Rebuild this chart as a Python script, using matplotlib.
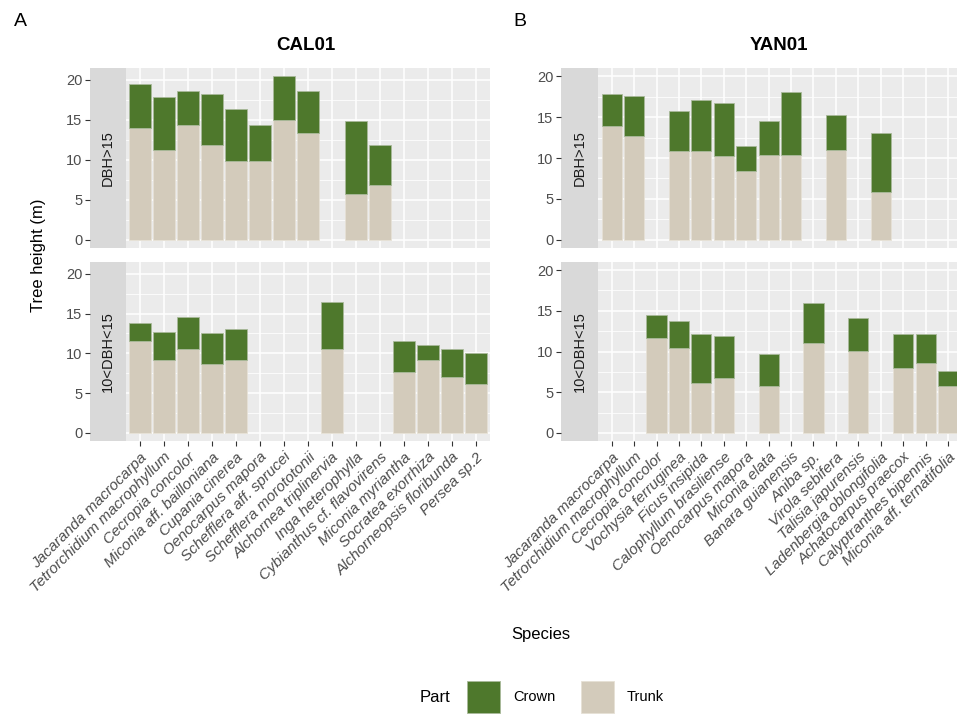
import numpy as np
import matplotlib
matplotlib.use("Agg")
import matplotlib.pyplot as plt
from matplotlib.patches import Patch

plt.rcParams.update({
    "font.family": ["Liberation Sans", "DejaVu Sans"],
    "font.size": 10,
})

nan = np.nan

# CAL01 species and heights (m); missing bars are nan
cal_species = [
    "Jacaranda macrocarpa", "Tetrorchidium macrophyllum", "Cecropia concolor",
    "Miconia aff. bailloniana", "Cupania cinerea", "Oenocarpus mapora",
    "Schefflera aff. sprucei", "Schefflera morototonii", "Alchornea triplinervia",
    "Inga heterophylla", "Cybianthus cf. flavovirens", "Miconia myriantha",
    "Socratea exorrhiza", "Alchorneopsis floribunda", "Persea sp.2",
]
cal_big_trunk = [14.0, 11.2, 14.4, 11.9, 9.9, 9.9, 15.0, 13.3, nan, 5.7, 6.9, nan, nan, nan, nan]
cal_big_total = [19.5, 17.8, 18.6, 18.2, 16.3, 14.4, 20.45, 18.6, nan, 14.8, 11.9, nan, nan, nan, nan]
cal_small_trunk = [11.6, 9.1, 10.5, 8.7, 9.1, nan, nan, nan, 10.6, nan, nan, 7.6, 9.1, 7.0, 6.1]
cal_small_total = [13.8, 12.7, 14.6, 12.6, 13.1, nan, nan, nan, 16.5, nan, nan, 11.6, 11.0, 10.6, 10.0]

# YAN01
yan_species = [
    "Jacaranda macrocarpa", "Tetrorchidium macrophyllum", "Cecropia concolor",
    "Vochysia ferruginea", "Ficus insipida", "Calophyllum brasiliense",
    "Oenocarpus mapora", "Miconia elata", "Banara guianensis", "Aniba sp.",
    "Virola sebifera", "Talisia japurensis", "Ladenbergia oblongifolia",
    "Achatocarpus praecox", "Calyptranthes bipennis", "Miconia aff. ternatifolia",
]
yan_big_trunk = [13.9, 12.7, nan, 10.8, 10.8, 10.2, 8.4, 10.4, 10.4, nan, 11.0, nan, 5.9, nan, nan, nan]
yan_big_total = [17.8, 17.6, nan, 15.8, 17.1, 16.7, 11.5, 14.5, 18.1, nan, 15.2, nan, 13.0, nan, nan, nan]
yan_small_trunk = [nan, nan, 11.7, 10.4, 6.1, 6.7, nan, 5.8, nan, 11.0, nan, 10.1, nan, 8.0, 8.6, 5.8]
yan_small_total = [nan, nan, 14.5, 13.8, 12.1, 11.9, nan, 9.7, nan, 16.0, nan, 14.1, nan, 12.1, 12.1, 7.6]

strip_labels = ["DBH>15", "10<DBH<15"]
part_labels = ["Crown", "Trunk"]

crown_col = "#4E782C"
trunk_col = "#D3CBBB"
panel_bg = "#EBEBEB"
strip_bg = "#D9D9D9"
tick_col = "#4D4D4D"

W, H = 957, 714
fig = plt.figure(figsize=(W / 100, H / 100), dpi=100)


def box(x0, y0, x1, y1):
    return [x0 / W, 1 - y1 / H, (x1 - x0) / W, (y1 - y0) / H]


def panel(px0, px1, py0, py1, sx0, species, trunk, total, ymax, strip, bottom):
    n = len(species)
    x = np.arange(n)
    trunk = np.array(trunk)
    total = np.array(total)
    ax = fig.add_axes(box(px0, py0, px1, py1))
    ax.set_facecolor(panel_bg)
    ax.bar(x, trunk, width=0.9, color=trunk_col, edgecolor="#E6E1D6", linewidth=0.6, zorder=3)
    ax.bar(x, total - trunk, bottom=trunk, width=0.9, color=crown_col,
           edgecolor="#A9B99A", linewidth=0.6, zorder=3)
    ax.set_xlim(-0.6, n - 0.4)
    ax.set_ylim(-0.05 * ymax, 1.05 * ymax)
    ax.set_yticks([0, 5, 10, 15, 20])
    ax.set_yticks([2.5, 7.5, 12.5, 17.5], minor=True)
    ax.set_xticks(x)
    ax.grid(True, which="major", color="white", linewidth=1.1, zorder=0)
    ax.grid(True, which="minor", axis="y", color="white", linewidth=0.55, zorder=0)
    ax.set_axisbelow(True)
    for s in ax.spines.values():
        s.set_visible(False)
    ax.tick_params(axis="y", which="both", left=False, labelleft=False)
    if bottom:
        ax.set_xticklabels(species, rotation=45, ha="right", va="top",
                           rotation_mode="anchor", style="italic",
                           fontsize=11, color=tick_col)
        ax.tick_params(axis="x", length=3.5, width=0.8, color="#333333", pad=3)
    else:
        ax.tick_params(axis="x", bottom=False, labelbottom=False)

    # strip on the left, y axis drawn on it
    sax = fig.add_axes(box(sx0, py0, px0, py1), sharey=ax)
    sax.set_facecolor(strip_bg)
    for s in sax.spines.values():
        s.set_visible(False)
    sax.set_xticks([])
    sax.tick_params(axis="y", which="major", length=3.5, width=0.8, color="#333333",
                    labelsize=10.5, labelcolor=tick_col, pad=2)
    sax.tick_params(axis="y", which="minor", left=False)
    sax.text(0.5, 0.5, strip, rotation=90, ha="center", va="center",
             transform=sax.transAxes, fontsize=10.5, color="#1A1A1A")
    return ax


# left: CAL01
panel(125.6, 490.4, 68, 248, 90, cal_species, cal_big_trunk, cal_big_total, 20.45, strip_labels[0], False)
panel(125.6, 490.4, 262, 441, 90, cal_species, cal_small_trunk, cal_small_total, 20.45, strip_labels[1], True)
# right: YAN01
panel(598.2, 961.5, 68, 248, 561, yan_species, yan_big_trunk, yan_big_total, 20.0, strip_labels[0], False)
panel(598.2, 961.5, 262, 441, 561, yan_species, yan_small_trunk, yan_small_total, 20.0, strip_labels[1], True)

fig.text(306 / W, 1 - 46 / H, "CAL01", ha="center", va="center", fontsize=13.5, fontweight="bold")
fig.text(779 / W, 1 - 46 / H, "YAN01", ha="center", va="center", fontsize=13.5, fontweight="bold")
fig.text(20 / W, 1 - 22 / H, "A", ha="center", va="center", fontsize=14)
fig.text(520 / W, 1 - 22 / H, "B", ha="center", va="center", fontsize=14)
fig.text(38 / W, 1 - 255 / H, "Tree height (m)", rotation=90, ha="center", va="center", fontsize=12)
fig.text(541 / W, 1 - 634 / H, "Species", ha="center", va="center", fontsize=12)

# legend
fig.text(435 / W, 1 - 698 / H, "Part", ha="center", va="center", fontsize=12)
handles = [Patch(facecolor=crown_col, edgecolor="#A9B99A", linewidth=0.6),
           Patch(facecolor=trunk_col, edgecolor="#E6E1D6", linewidth=0.6)]
fig.legend(handles, part_labels, loc="center left", bbox_to_anchor=(467 / W, 1 - 697 / H),
           ncol=2, frameon=False, fontsize=10.5, handlelength=2.25, handleheight=3.0,
           handletextpad=0.9, columnspacing=1.75, borderpad=0, borderaxespad=0)

fig.savefig("out.png", dpi=100)
